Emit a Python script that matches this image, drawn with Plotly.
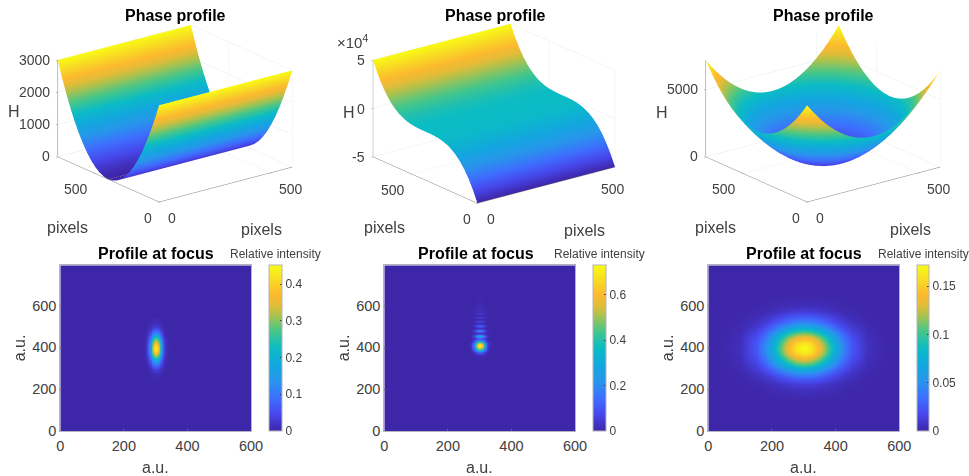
import math
import numpy as np
import plotly.graph_objects as go

W, H = 969, 476
FONT = "Liberation Sans"
TXT = "#404040"

PARULA = [
    [0.0, "#3e26a8"], [0.1, "#4747eb"], [0.2, "#3e6ffe"], [0.3, "#2796eb"],
    [0.4, "#12a8de"], [0.5, "#0bbcc5"], [0.6, "#45c68a"], [0.7, "#aec24c"],
    [0.76, "#e4bc38"], [0.82, "#fcb92f"], [0.9, "#f8d825"], [1.0, "#f9fb15"],
]

# Surface grids (pixels)
X_SAMPLES = [0, 25, 50, 75, 100, 125, 150, 175, 200, 225, 250, 275, 300,
             325, 350, 375, 400, 425, 450, 475, 500, 525, 550, 575, 600]
Y_SAMPLES = [0, 33, 66, 99, 132, 165, 198, 231, 264, 297, 330, 363, 396,
             429, 462, 495, 528, 561, 594, 627, 660, 693, 726, 759, 792]

# H across the y axis, left plot
H1_Y = [3000, 2521, 2083, 1688, 1333, 1021, 750, 521, 333, 188, 83, 21, 0,
        21, 83, 188, 333, 521, 750, 1021, 1333, 1688, 2083, 2521, 3000]
# H across the y axis, middle plot, in units of 10^4 as on its axis
H2_Y = [-5.0, -3.851, -2.894, -2.109, -1.482, -0.993, -0.625, -0.362, -0.185, -0.078, -0.023, -0.003, 0,
        0.003, 0.023, 0.078, 0.185, 0.362, 0.625, 0.993, 1.482, 2.109, 2.894, 3.851, 5.0]
# Right plot: contribution of each axis to H
H3_X = [3600, 3025, 2500, 2025, 1600, 1225, 900, 625, 400, 225, 100, 25, 0,
        25, 100, 225, 400, 625, 900, 1225, 1600, 2025, 2500, 3025, 3600]
H3_Y = [3600, 3025, 2500, 2025, 1600, 1225, 900, 625, 400, 225, 100, 25, 0,
        25, 100, 225, 400, 625, 900, 1225, 1600, 2025, 2500, 3025, 3600]

# Focus spots: cross sections
F1_X = [0, 250, 260, 270, 275, 280, 285, 290, 295, 300, 305, 310, 315, 320, 325, 330, 340, 350, 600]
F1_XV = [0, 0, 0.005, 0.04, 0.12, 0.26, 0.47, 0.72, 0.92, 1, 0.92, 0.72, 0.47, 0.26, 0.12, 0.04, 0.005, 0, 0]
F1_Y = [0, 240, 276, 296, 316, 336, 356, 376, 396, 416, 436, 456, 476, 496, 516, 552, 792]
F1_YV = [0, 0, 0.03, 0.08, 0.2, 0.4, 0.67, 0.9, 1, 0.9, 0.67, 0.4, 0.2, 0.08, 0.03, 0, 0]
F1_PEAK = 0.452

F2_X = [0, 260, 270, 275, 280, 285, 290, 295, 300, 305, 310, 315, 320, 325, 330, 340, 600]
F2_XV = [0, 0, 0.02, 0.08, 0.2, 0.42, 0.68, 0.92, 1, 0.92, 0.68, 0.42, 0.2, 0.08, 0.02, 0, 0]
F2_Y = [0, 340, 360, 375, 390, 400, 410, 420, 430, 438, 446, 455, 462, 468, 474, 480, 486,
        492, 498, 504, 510, 515, 520, 525, 530, 535, 540, 544, 549, 553, 558, 562, 570,
        578, 586, 594, 602, 610, 618, 625, 632, 640, 648, 655, 670, 690, 792]
F2_YV = [0, 0, 0.02, 0.15, 0.6, 0.9, 1, 0.85, 0.45, 0.15, 0.22, 0.45, 0.17, 0.01, 0.11, 0.28, 0.11,
         0.01, 0.08, 0.17, 0.06, 0.01, 0.05, 0.12, 0.04, 0.01, 0.04, 0.085, 0.03, 0.005, 0.025, 0.06, 0.01,
         0.045, 0.01, 0.03, 0.008, 0.02, 0.005, 0.012, 0.003, 0.008, 0.002, 0.004, 0.002, 0, 0]
F2_PEAK = 0.731

F3_X = [0, 50, 100, 150, 175, 200, 225, 250, 275, 300, 325, 350, 375, 400, 425, 450, 500, 550, 600]
F3_XV = [0, 0.005, 0.032, 0.145, 0.26, 0.42, 0.62, 0.81, 0.95, 1, 0.95, 0.81, 0.62, 0.42, 0.26, 0.145, 0.032, 0.005, 0]
F3_Y = [0, 96, 146, 196, 221, 246, 271, 296, 321, 346, 371, 396, 421, 446, 471, 496, 521, 546, 571, 596, 646, 696, 792]
F3_YV = [0, 0, 0.005, 0.032, 0.07, 0.145, 0.26, 0.42, 0.62, 0.81, 0.95, 1, 0.95, 0.81, 0.62, 0.42, 0.26, 0.145, 0.07, 0.032, 0.005, 0, 0]
F3_PEAK = 0.172

XMAX, YMAX = 600, 792
TICKS3D = [0, 500]
HM_XTICKS = [0, 200, 400, 600]
HM_YTICKS = [0, 200, 400, 600]

surfaces = [
    dict(z=np.tile(np.array(H1_Y)[:, None], (1, 25)), zr=[0, 3000], zt=[0, 1000, 2000, 3000],
         zl=["0", "1000", "2000", "3000"], cx=174.5, ax=[1.48, 1.468, 0.908], yhalf=(-51, 23), h_sh=(-43, 45), h_at=0, zgap=-5),
    dict(z=np.tile(np.array(H2_Y)[:, None], (1, 25)), zr=[-5, 5], zt=[-5, 0, 5],
         zl=["-5", "0", "5"], cx=494.3, ax=[1.53, 1.51, 0.908], yhalf=(-52.5, 23), h_sh=(-24, 44), h_at=-5, zgap=-6),
    dict(z=np.add.outer(np.array(H3_Y), np.array(H3_X)), zr=[0, 7200], zt=[0, 5000],
         zl=["0", "5000"], cx=822.9, ax=[1.48, 1.468, 0.908], yhalf=(-51, 23), h_sh=(-43, 44), h_at=0, zgap=-5),
]

EYE_R = 2.205
AZ, EL = math.radians(37.5), math.radians(20)
eye = dict(x=-math.sin(AZ) * math.cos(EL) * EYE_R, y=-math.cos(AZ) * math.cos(EL) * EYE_R, z=math.sin(EL) * EYE_R)

fig = go.Figure()
layout = dict(width=W, height=H, margin=dict(l=0, r=0, t=0, b=0, autoexpand=False), paper_bgcolor="white",
              plot_bgcolor="white", showlegend=False, hovermode=False,
              font=dict(family=FONT, color=TXT))


def axis3d(rng, tv, lc="#7f7f7f", lw=1):
    return dict(range=rng, tickvals=tv, showticklabels=False, title=dict(text=""), showbackground=False,
                showgrid=True, gridcolor="#ebebeb", gridwidth=1, zeroline=False, showspikes=False,
                showline=True, linecolor=lc, linewidth=lw, ticks="outside", ticklen=2, tickcolor="#7f7f7f")


for i, s in enumerate(surfaces):
    name = "scene" if i == 0 else f"scene{i + 1}"
    fig.add_trace(go.Surface(x=X_SAMPLES, y=Y_SAMPLES, z=s["z"], colorscale=PARULA, cmin=s["zr"][0], cmax=s["zr"][1],
                             showscale=False, scene=name, hoverinfo="skip",
                             lighting=dict(ambient=1, diffuse=0, specular=0, roughness=1, fresnel=0),
                             contours=dict(x=dict(highlight=False), y=dict(highlight=False), z=dict(highlight=False))))
    anns = []
    def lab(x, y, z, text, sx, sy, size=14, anchor="center"):
        anns.append(dict(x=x, y=y, z=z, text=text, showarrow=False, xshift=sx, yshift=sy, xanchor=anchor,
                         yanchor="middle", font=dict(family=FONT, size=size, color=TXT)))
    z0 = s["zr"][0]
    lab(0, 0, z0, "0", 13, -16)
    lab(500, 0, z0, "500", 21, -16)
    lab(0, 0, z0, "0", -11, -16)
    lab(0, 500, z0, "500", -19, -16)
    lab(0, 500, z0, "pixels", -27, -54, 16)
    lab(500, 0, z0, "pixels", -8, -57, 16)
    yh = s["yhalf"]
    mid = YMAX / 2
    for v, t in zip(s["zt"], s["zl"]):
        lab(0, mid, v, t, yh[0] + s["zgap"], yh[1], 14, "right")
    lab(0, mid, s["h_at"], "H", yh[0] + s["h_sh"][0], yh[1] + s["h_sh"][1], 16)
    if i == 1:
        lab(0, mid, 5, "×10<sup>4</sup>", yh[0] - 20, yh[1] + 19, 15)
    layout[name] = dict(
        domain=dict(x=[(s["cx"] - 146) / W, (s["cx"] + 146) / W], y=[1 - 227 / H, 1 - 0 / H]),
        xaxis=axis3d([0, XMAX], TICKS3D), yaxis=axis3d([0, YMAX], TICKS3D),
        zaxis=axis3d(s["zr"], s["zt"], "#bdbdbd", 2),
        aspectmode="manual", aspectratio=dict(x=s["ax"][0], y=s["ax"][1], z=s["ax"][2]),
        camera=dict(eye=eye, up=dict(x=0, y=0, z=1), center=dict(x=0, y=0, z=0),
                    projection=dict(type="orthographic")),
        annotations=anns, bgcolor="rgba(0,0,0,0)",
    )

maps = [
    (F1_X, F1_XV, F1_Y, F1_YV, F1_PEAK, 60.3, 251, 269, 282, [0, 0.1, 0.2, 0.3, 0.4], ["0", "0.1", "0.2", "0.3", "0.4"], 156, 275),
    (F2_X, F2_XV, F2_Y, F2_YV, F2_PEAK, 384.3, 575, 593, 605.7, [0, 0.2, 0.4, 0.6], ["0", "0.2", "0.4", "0.6"], 476, 599),
    (F3_X, F3_XV, F3_Y, F3_YV, F3_PEAK, 708.3, 899.3, 917.3, 929.3, [0, 0.05, 0.1, 0.15], ["0", "0.05", "0.1", "0.15"], 804, 923),
]
TOP, BOT = 265.3, 431
annotations = []


def note(px, py, text, size, color=TXT, angle=0):
    annotations.append(dict(x=px / W, y=1 - py / H, xref="paper", yref="paper", text=text, showarrow=False,
                            xanchor="center", yanchor="middle", textangle=angle,
                            font=dict(family=FONT, size=size, color=color)))


for cxp in (175, 495, 823):
    note(cxp, 15, "<b>Phase profile</b>", 16, "#000000")

for i, (xs, xv, ys, yv, peak, x0, x1, c0, c1, ct, cl, tx, rx) in enumerate(maps):
    k = i + 1
    xname, yname = f"x{k}", f"y{k}"
    zz = np.outer(np.array(yv), np.array(xv)) * peak
    fig.add_trace(go.Heatmap(x=xs, y=ys, z=zz, colorscale=PARULA, zmin=0, zmax=peak, zsmooth="best",
                             hoverinfo="skip", xaxis=xname, yaxis=yname,
                             colorbar=dict(thickness=c1 - c0, thicknessmode="pixels", len=BOT - TOP, lenmode="pixels",
                                           x=c0 / W, xanchor="left", xpad=0, ypad=0, y=1 - BOT / H, yanchor="bottom",
                                           tickvals=ct, ticktext=cl, ticks="inside", ticklen=2, tickcolor="#404040",
                                           outlinecolor="#b4b4bc", outlinewidth=1,
                                           tickfont=dict(family=FONT, size=12, color=TXT))))
    suffix = "" if k == 1 else str(k)
    common = dict(ticks="inside", ticklen=2, tickcolor="#606060", showgrid=False, zeroline=False, showline=True,
                  linecolor="#b4b4bc", linewidth=1, mirror=True, tickfont=dict(family=FONT, size=14.5, color=TXT))
    layout[f"xaxis{suffix}"] = dict(domain=[x0 / W, x1 / W], range=[0, XMAX], tickvals=HM_XTICKS, anchor=f"y{suffix}",
                                    ticklabelstandoff=2, **common)
    layout[f"yaxis{suffix}"] = dict(domain=[1 - BOT / H, 1 - TOP / H], range=[0, YMAX], tickvals=HM_YTICKS, anchor=f"x{suffix}", **common)
    note((x0 + x1) / 2, 467, "a.u.", 16)
    note(x0 - 41, 348, "a.u.", 16, TXT, -90)
    note(tx, 253, "<b>Profile at focus</b>", 16, "#000000")
    note(rx, 254, "Relative intensity", 12)

layout["annotations"] = annotations
fig.update_layout(**layout)
fig.write_html("out.html", post_script="document.body.style.margin='0';", config=dict(displayModeBar=False))
